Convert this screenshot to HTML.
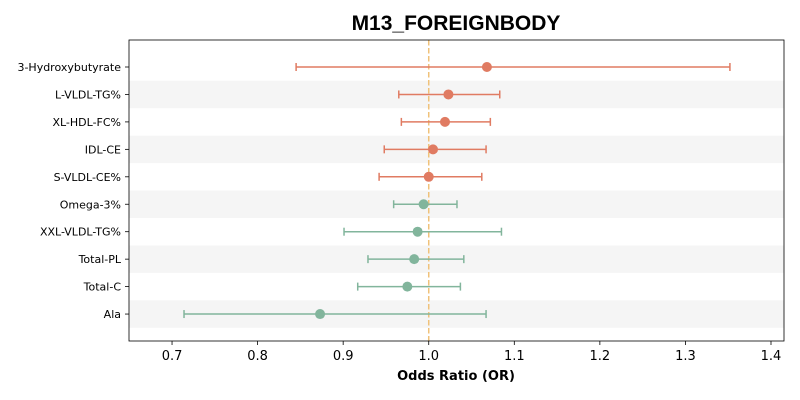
<!DOCTYPE html>
<html><head><meta charset="utf-8"><style>
html,body{margin:0;padding:0;background:#fff;}
svg{display:block;font-family:"DejaVu Sans","Liberation Sans",sans-serif;}
</style></head><body>
<svg id="chart" width="800" height="400"></svg>
<script>
const labels=["3-Hydroxybutyrate","L-VLDL-TG%","XL-HDL-FC%","IDL-CE","S-VLDL-CE%","Omega-3%","XXL-VLDL-TG%","Total-PL","Total-C","Ala"];
const orValues=[1.068,1.023,1.019,1.005,1.000,0.994,0.987,0.983,0.975,0.873];
const ciLow=[0.845,0.965,0.968,0.948,0.942,0.959,0.901,0.929,0.917,0.714];
const ciHigh=[1.352,1.083,1.072,1.067,1.062,1.033,1.085,1.041,1.037,1.067];
const xTicks=[0.7,0.8,0.9,1.0,1.1,1.2,1.3,1.4];
const xTickLabels=["0.7","0.8","0.9","1.0","1.1","1.2","1.3","1.4"];

const NS="http://www.w3.org/2000/svg";
const svg=document.getElementById('chart');
const L=129,R=784,T=40,B=341;
const x0=0.6497,x1=1.4152;
const xs=v=>L+(v-x0)/(x1-x0)*(R-L);
const rowY=i=>67+i*27.45;
function el(tag,attrs,parent){const e=document.createElementNS(NS,tag);for(const k in attrs)e.setAttribute(k,attrs[k]);(parent||svg).appendChild(e);return e;}

labels.forEach((lab,i)=>{
  if(i%2===1){
    const b=el('rect',{x:L,y:rowY(i)-13.7,width:R-L,height:27.45,fill:'#f5f5f5'});
    
    
  }
});
const ref=el('line',{x1:xs(1),x2:xs(1),y1:T,y2:B,stroke:'#f0c27a','stroke-width':1.5,'stroke-dasharray':'5.5,2.5'});


const fr=el('rect',{x:L,y:T,width:R-L,height:B-T,fill:'none',stroke:'#000','stroke-width':0.8});


const t=el('text',{x:456,y:30,'text-anchor':'middle','font-size':21,'font-weight':'bold',fill:'#000','font-family':'"Liberation Sans",sans-serif'});
t.textContent='M13_FOREIGNBODY';


xTicks.forEach((v,i)=>{
  const tk=el('line',{x1:xs(v),x2:xs(v),y1:B,y2:B+4,stroke:'#000','stroke-width':0.8});
  
  
  const tl=el('text',{x:xs(v),y:B+19,'text-anchor':'middle','font-size':13,fill:'#000'});
  tl.textContent=xTickLabels[i];
  
  
});
const xt=el('text',{x:456,y:380,'text-anchor':'middle','font-size':13,'font-weight':'bold',fill:'#000'});
xt.textContent='Odds Ratio (OR)';


labels.forEach((lab,i)=>{
  const y=rowY(i);
  const c=orValues[i]>=1?'#e07b62':'#82b59c';
  const tk=el('line',{x1:L-4,x2:L,y1:y,y2:y,stroke:'#000','stroke-width':0.8});
  
  
  const yl=el('text',{x:L-8,y:y+4,'text-anchor':'end','font-size':11,fill:'#000'});
  yl.textContent=lab;
  
  
  const g=el('g',{});
  
  
  el('line',{x1:xs(ciLow[i]),x2:xs(ciHigh[i]),y1:y,y2:y,stroke:c,'stroke-width':1.5},g);
  el('line',{x1:xs(ciLow[i]),x2:xs(ciLow[i]),y1:y-4,y2:y+4,stroke:c,'stroke-width':1.5},g);
  el('line',{x1:xs(ciHigh[i]),x2:xs(ciHigh[i]),y1:y-4,y2:y+4,stroke:c,'stroke-width':1.5},g);
  const p=el('circle',{cx:xs(orValues[i]),cy:y,r:5,fill:c});
  
  
});
</script>
</body></html>
